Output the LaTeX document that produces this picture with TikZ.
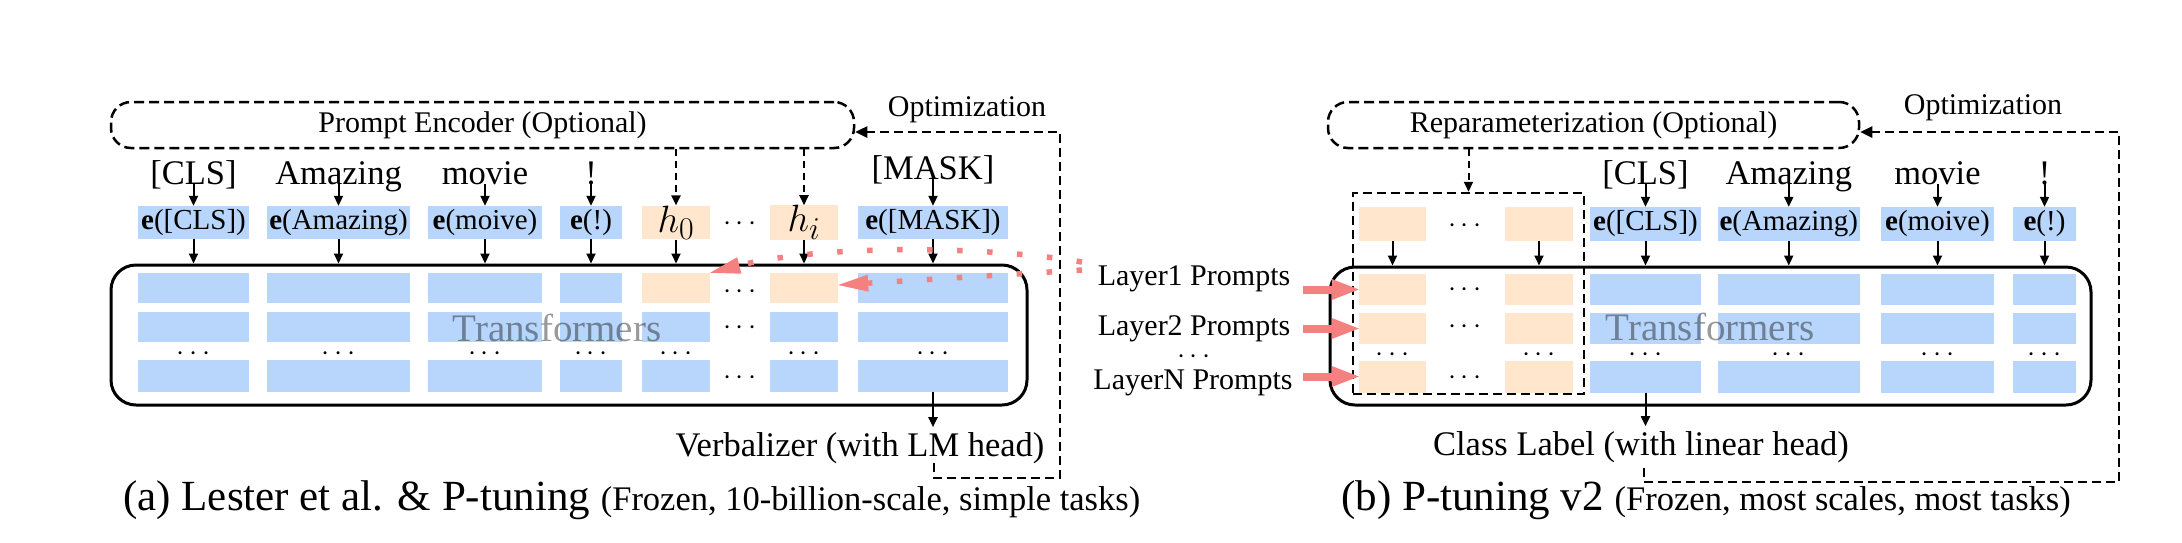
\documentclass[tikz,border=0pt]{standalone}
\usepackage{fontspec}
\setmainfont{Liberation Serif}
\usepackage{graphicx}
\usetikzlibrary{arrows.meta}
\definecolor{eblue}{RGB}{184,214,251}
\definecolor{porange}{RGB}{255,230,204}
\definecolor{lred}{RGB}{245,128,128}
\newcommand{\mydots}{\scalebox{1.17}{$\cdots$}}
\newcommand{\bigmath}[1]{\scalebox{1.53}{$#1$}}
\begin{document}
\begin{tikzpicture}[x=1pt,y=-1pt,
  word/.style={inner sep=0pt, anchor=base, font=\fontsize{34.5}{38}\selectfont},
  big/.style={inner sep=0pt, font=\fontsize{34.5}{38}\selectfont},
  mid/.style={inner sep=0pt, font=\fontsize{30}{33}\selectfont},
  ebox/.style={fill=eblue, inner sep=0pt, font=\fontsize{29}{32}\selectfont},
  hbox/.style={fill=porange, inner sep=0pt, font=\fontsize{24.88}{28}\selectfont},
  cell/.style={inner sep=0pt},
  dotsn/.style={inner sep=0pt, font=\fontsize{24.88}{28}\selectfont},
  arr/.style={line width=2pt, -{Triangle[length=10pt,width=9pt]}},
  darr/.style={arr, dash pattern=on 7pt off 5pt},
  dbox/.style={draw, line width=2.5pt, dash pattern=on 10pt off 5pt, rounded corners=20pt, inner sep=0pt, font=\fontsize{30}{33}\selectfont},
  pbox/.style={draw, line width=2.5pt, dash pattern=on 9pt off 5pt, inner sep=0pt},
  tbox/.style={draw, line width=3pt, rounded corners=25pt, inner sep=0pt},
  optl/.style={line width=2.5pt, dash pattern=on 9pt off 5pt, -{Triangle[length=12pt,width=11pt]}},
  trn/.style={inner sep=0pt, font=\fontsize{39}{42}\selectfont, text=black, text opacity=0.4},
  reddot/.style={draw=lred, line width=5.5pt, dash pattern=on 5.5pt off 24.5pt, -{Triangle[length=30pt,width=17pt,fill=lred,line width=0pt]}},
  redarr/.style={draw=lred, line width=8pt, -{Triangle[length=27pt,width=21pt,fill=lred,line width=0pt]}},
  captxt/.style={inner sep=0pt, anchor=base west}
]
\useasboundingbox (0,0) rectangle (2182,542);

% ================= LEFT PANEL =================
\node[dbox, minimum width=743pt, minimum height=46pt] (PE) at (482.5,125) {Prompt Encoder (Optional)};

\node[word] (wCLS) at (193.5,184) {[CLS]};
\node[word] (wAm) at (338.5,184) {Amazing};
\node[word] (wMo) at (485,184) {movie};
\node[word] (wEx) at (591,184) {!};
\node[word] (wMask) at (933,179) {[MASK]};

\node[ebox, minimum width=111pt, minimum height=33pt] (eCLS) at (193.5,222.5) {\textbf{e}([CLS])};
\node[ebox, minimum width=143pt, minimum height=33pt] (eAm) at (338.5,222.5) {\textbf{e}(Amazing)};
\node[ebox, minimum width=114pt, minimum height=33pt] (eMo) at (485,222.5) {\textbf{e}(moive)};
\node[ebox, minimum width=62pt, minimum height=33pt] (eEx) at (591,222.5) {\textbf{e}(!)};
\node[hbox, minimum width=68pt, minimum height=33pt] (h0) at (676,222.5) {\bigmath{h_0}};
\node[dotsn] (hdots) at (740,224) {\mydots};
\node[hbox, minimum width=68pt, minimum height=33pt] (hi) at (804,222.5) {\bigmath{h_i}};
\node[ebox, minimum width=150pt, minimum height=33pt] (eMask) at (933,222.5) {\textbf{e}([MASK])};

\node[tbox, minimum width=916pt, minimum height=140pt] (TL) at (569,335) {};

\foreach \n/\x/\w/\c in {1/193.5/111/eblue, 2/338.5/143/eblue, 3/485/114/eblue, 4/591/62/eblue, 5/676/68/porange, 6/804/68/porange, 7/933/150/eblue} {
  \node[cell, fill=\c, minimum width=\w pt, minimum height=30pt] (L1-\n) at (\x,288) {};
  \node[cell, fill=eblue, minimum width=\w pt, minimum height=30pt] (L2-\n) at (\x,327) {};
  \node[cell, fill=eblue, minimum width=\w pt, minimum height=32pt] (L3-\n) at (\x,376) {};
  \node[dotsn] (Ld-\n) at (\x,354) {\mydots};
}
\node[dotsn] (Lb1) at (740,292) {\mydots};
\node[dotsn] (Lb2) at (740,328) {\mydots};
\node[dotsn] (Lb3) at (740,378) {\mydots};
\node[trn] (TLt) at (557,328) {Transformers};

% arrows words -> embeddings
\draw[arr] (wCLS.base) -- (eCLS.north);
\draw[arr] (wAm.base) -- (eAm.north);
\draw[arr] (wMo.base) -- (eMo.north);
\draw[arr] (wEx.base) -- (eEx.north);
\draw[arr] (wMask.base) -- (eMask.north);
\draw[darr] (h0.north |- PE.south) -- (h0.north);
\draw[darr] (hi.north |- PE.south) -- (hi.north);
% embeddings -> transformer
\foreach \e in {eCLS,eAm,eMo,eEx,h0,hi,eMask} {
  \draw[arr] (\e.south) -- (\e.south |- TL.north);
}

\node[big] (verb) at (860,448) {Verbalizer (with LM head)};
\draw[arr] (L3-7.south) -- ([yshift=5pt]L3-7.south |- verb.north);

\coordinate (optA) at (934,463);
\coordinate (optB) at (1060,478);
\draw[optl] (optA) |- (optB) |- ([yshift=-7pt]PE.east);
\node[mid] (optTL) at (967,110) {Optimization};

% red dotted (input-layer prompts only)
\coordinate (srcA) at (1082,262);
\coordinate (srcB) at (1082,270);
\draw[reddot] (srcA) .. controls (980,245) and (820,245) .. (L1-5.north east);
\draw[reddot] (srcB) -- ([yshift=3pt]L1-6.east);

\node[captxt] (capA) at (123,510) {\fontsize{43}{46}\selectfont (a) Lester et al. \& P-tuning \fontsize{34.5}{38}\selectfont(Frozen, 10-billion-scale, simple tasks)};

% ================= RIGHT PANEL =================
\node[dbox, minimum width=531pt, minimum height=46pt] (RP) at (1593.5,125) {Reparameterization (Optional)};
\node[pbox, minimum width=231pt, minimum height=201pt] (PB) at (1468.5,293.5) {};

\node[hbox, minimum width=67pt, minimum height=34pt] (pt1) at (1392.5,224) {};
\node[dotsn] (ptd) at (1465,226) {\mydots};
\node[hbox, minimum width=68pt, minimum height=34pt] (pt2) at (1539,224) {};

\node[word] (rCLS) at (1645.5,184) {[CLS]};
\node[word] (rAm) at (1788.75,184) {Amazing};
\node[word] (rMo) at (1937.5,184) {movie};
\node[word] (rEx) at (2044.5,184) {!};

\node[ebox, minimum width=111pt, minimum height=34pt] (reCLS) at (1645.5,224) {\textbf{e}([CLS])};
\node[ebox, minimum width=142.5pt, minimum height=34pt] (reAm) at (1788.75,224) {\textbf{e}(Amazing)};
\node[ebox, minimum width=113pt, minimum height=34pt] (reMo) at (1937.5,224) {\textbf{e}(moive)};
\node[ebox, minimum width=63pt, minimum height=34pt] (reEx) at (2044.5,224) {\textbf{e}(!)};

\node[tbox, minimum width=761pt, minimum height=138pt] (TR) at (1710.5,336) {};

\foreach \n/\x/\w/\c in {1/1392.5/67/porange, 2/1539/68/porange, 3/1645.5/111/eblue, 4/1788.75/142.5/eblue, 5/1937.5/113/eblue, 6/2044.5/63/eblue} {
  \node[cell, fill=\c, minimum width=\w pt, minimum height=31pt] (R1-\n) at (\x,289.5) {};
  \node[cell, fill=\c, minimum width=\w pt, minimum height=31pt] (R2-\n) at (\x,328.5) {};
  \node[cell, fill=\c, minimum width=\w pt, minimum height=32pt] (R3-\n) at (\x,376.5) {};
  \node[dotsn] (Rd-\n) at (\x,355) {\mydots};
}
\node[dotsn] (Rb1) at (1465,290) {\mydots};
\node[dotsn] (Rb2) at (1465,327) {\mydots};
\node[dotsn] (Rb3) at (1465,378) {\mydots};
\node[trn] (TRt) at (1710,327) {Transformers};

\draw[darr] (PB.north |- RP.south) -- (PB.north);
\foreach \e in {pt1,pt2} {
  \draw[arr] (\e.south) -- (\e.south |- TR.north);
}
\draw[arr] (rCLS.base) -- (reCLS.north);
\draw[arr] (rAm.base) -- (reAm.north);
\draw[arr] (rMo.base) -- (reMo.north);
\draw[arr] (rEx.base) -- (reEx.north);
\foreach \e in {reCLS,reAm,reMo,reEx} {
  \draw[arr] (\e.south) -- (\e.south |- TR.north);
}

\node[big] (clab) at (1641,447) {Class Label (with linear head)};
\draw[arr] (R3-3.south) -- ([yshift=5pt]R3-3.south |- clab.north);

\coordinate (optC) at (1644,468);
\coordinate (optD) at (2119,482);
\draw[optl] (optC) |- (optD) |- ([yshift=-7pt]RP.east);
\node[mid] (optTR) at (1983,108) {Optimization};

% layer prompts
\node[mid] (lay1) at (1194,279) {Layer1 Prompts};
\node[mid] (lay2) at (1194,329) {Layer2 Prompts};
\node[dotsn] (layd) at (1194,357) {\mydots};
\node[mid] (layN) at (1193,383) {LayerN Prompts};
\coordinate (rs) at (1303,0);
\draw[redarr] (rs |- R1-1.west) -- (R1-1.west);
\draw[redarr] (rs |- R2-1.west) -- (R2-1.west);
\draw[redarr] (rs |- R3-1.west) -- (R3-1.west);

\node[captxt] (capB) at (1341,510) {\fontsize{43}{46}\selectfont (b) P-tuning v2 \fontsize{34.5}{38}\selectfont(Frozen, most scales, most tasks)};
\end{tikzpicture}
\end{document}
